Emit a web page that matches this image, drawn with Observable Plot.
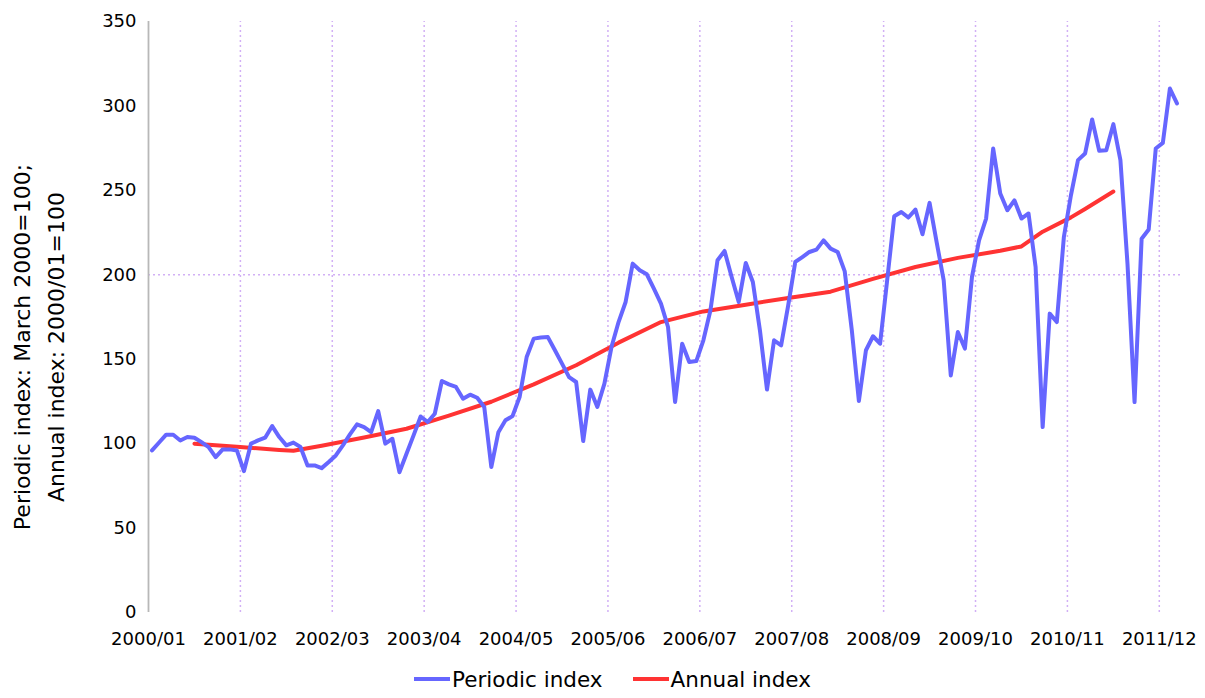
<!DOCTYPE html>
<html>
<head>
<meta charset="utf-8">
<script src="https://cdn.jsdelivr.net/npm/d3@7"></script>
<script src="https://cdn.jsdelivr.net/npm/@observablehq/plot@0.6"></script>
<style>
  html, body { margin: 0; padding: 0; background: #fff; overflow: hidden; }
  #chart { width: 1205px; }
  #legend { display: flex; justify-content: center; align-items: center; gap: 30px;
    font-family: "DejaVu Sans", sans-serif; font-size: 21.5px; color: #000; height: 38px; margin-left: 20px; }
  .item { display: flex; align-items: center; }
  .sw { width: 36px; height: 4px; margin-right: 2px; }
</style>
</head>
<body>
<div id="chart"></div>
<div id="legend">
  <div class="item"><div class="sw" style="background:#6666ff"></div><span>Periodic index</span></div>
  <div class="item"><div class="sw" style="background:#ff3333"></div><span>Annual index</span></div>
</div>
<script>
// Tick labels (year/month), one every 13 months
const tickLabels = ["2000/01","2001/02","2002/03","2003/04","2004/05","2005/06","2006/07","2007/08","2008/09","2009/10","2010/11","2011/12"];
const tickMonths = [0,13,26,39,52,65,78,91,104,117,130,143];

// Periodic index, monthly from 2000/01 to 2012/02 (March 2000 = 100)
const periodic = [
  96.0, 100.7, 105.3, 105.3, 101.9, 103.9, 103.5, 100.9, 98.0, 92.0,
  96.6, 96.6, 96.0, 83.7, 100.0, 101.9, 103.5, 110.4, 103.9, 99.0,
  100.6, 98.0, 87.1, 87.1, 85.5, 89.1, 93.0, 99.0, 105.5, 111.4,
  109.8, 106.8, 119.3, 100.0, 102.9, 83.1, 94.0, 104.9, 116.1, 112.8,
  117.7, 137.1, 135.1, 133.6, 126.6, 129.0, 127.2, 121.7, 86.1, 106.8,
  113.8, 116.3, 127.6, 151.3, 162.2, 162.8, 163.1, 155.3, 147.4, 139.4,
  136.5, 101.5, 132.0, 121.7, 135.5, 157.2, 172.0, 183.9, 206.6, 202.7,
  200.3, 191.8, 182.9, 169.1, 124.6, 159.2, 148.3, 148.9, 161.2, 179.0,
  208.6, 214.1, 198.7, 183.9, 207.0, 195.7, 167.1, 132.0, 161.2, 158.2,
  181.9, 207.6, 210.5, 213.5, 214.9, 220.4, 215.5, 213.5, 202.0, 167.1,
  125.2, 155.3, 163.6, 159.2, 196.7, 234.7, 237.2, 233.9, 238.6, 224.0,
  242.6, 219.4, 196.7, 140.4, 166.1, 156.3, 198.7, 220.4, 233.3, 274.8,
  248.1, 238.2, 244.1, 233.3, 236.3, 204.6, 109.8, 177.0, 172.0, 222.4,
  247.1, 267.9, 271.8, 292.0, 273.4, 273.8, 289.2, 267.9, 206.6, 124.6,
  221.4, 226.8, 274.8, 278.1, 310.3, 301.5
];

// Annual index (2000/01 = 100), read at these month positions
const annualMonths = [6, 12, 18, 20, 24, 30, 36, 42, 48, 54, 60, 66, 72, 78, 84, 90, 96, 102, 108, 114, 120, 123, 126, 130, 132, 136];
const annualValues = [100.0, 98.1, 96.3, 95.8, 98.7, 103.6, 108.8, 116.6, 124.8, 135.1, 146.4, 159.8, 172.0, 178.3, 182.3, 186.3, 190.0, 197.6, 204.6, 210.0, 214.2, 216.8, 225.5, 234.0, 239.0, 249.3];

const yTicks = [0, 50, 100, 150, 200, 250, 300, 350];

const periodicData = periodic.map((v, i) => ({m: i, v}));
const annualData = annualMonths.map((m, i) => ({m, v: annualValues[i]}));
const tickPos = tickMonths.map(m => m - 0.5);
const labelByPos = new Map(tickPos.map((p, i) => [p, tickLabels[i]]));

const grid = "#d2b0f5";
const chart = Plot.plot({
  width: 1205,
  height: 660,
  marginLeft: 148,
  marginRight: 25,
  marginTop: 21,
  marginBottom: 48,
  style: {fontFamily: "DejaVu Sans, sans-serif", fontSize: "18px", color: "#000", background: "#fff"},
  x: {domain: [-0.5, 145.5]},
  y: {domain: [0, 350]},
  marks: [
    Plot.ruleX(tickPos.slice(1), {stroke: grid, strokeWidth: 1.5, strokeDasharray: "2,3", y1: 0, y2: 350}),
    Plot.ruleY([200], {stroke: grid, strokeWidth: 1.5, strokeDasharray: "2,3", x1: -0.5, x2: 145.5}),
    Plot.ruleX([-0.5], {stroke: "#b8b8b8", strokeWidth: 1.8, y1: 0, y2: 350}),
    Plot.axisY(yTicks, {tickSize: 0, tickPadding: 12, label: null}),
    Plot.axisX(tickPos, {tickSize: 0, tickPadding: 20, label: null, tickFormat: d => labelByPos.get(d)}),
    Plot.line(annualData, {x: "m", y: "v", stroke: "#ff3333", strokeWidth: 4}),
    Plot.line(periodicData, {x: "m", y: "v", stroke: "#6666ff", strokeWidth: 4, strokeLinejoin: "round"})
  ]
});
document.getElementById("chart").appendChild(chart);

const svg = d3.select(chart);
svg.append("text")
  .attr("transform", "translate(30,347) rotate(-90)")
  .attr("text-anchor", "middle")
  .attr("font-size", 22).attr("fill", "#000")
  .text("Periodic index: March 2000=100;");
svg.append("text")
  .attr("transform", "translate(64,347) rotate(-90)")
  .attr("text-anchor", "middle")
  .attr("font-size", 22).attr("fill", "#000")
  .text("Annual index: 2000/01=100");
</script>
</body>
</html>
